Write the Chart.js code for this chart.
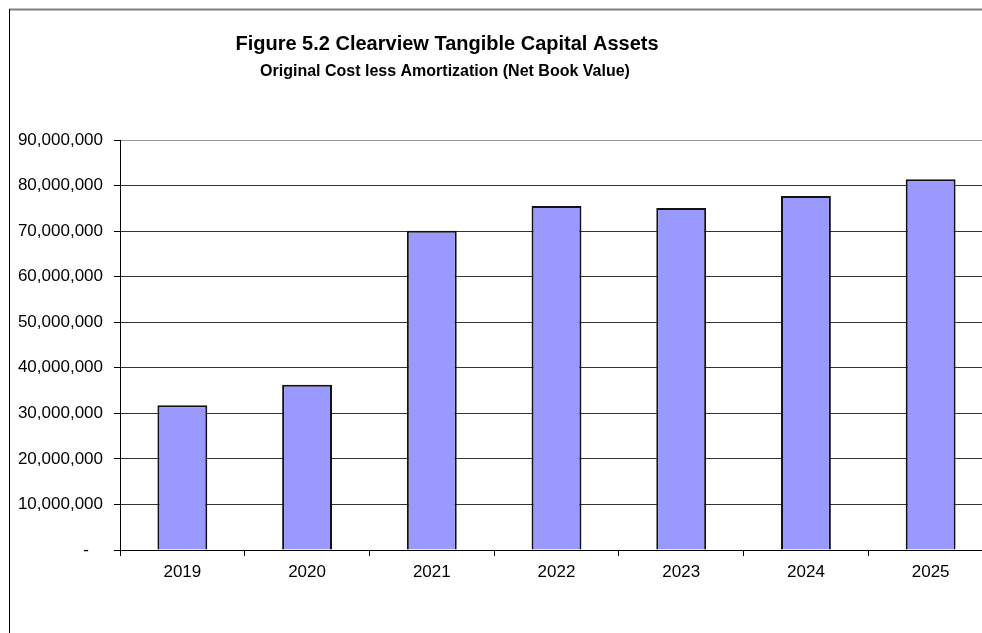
<!DOCTYPE html>
<html>
<head>
<meta charset="utf-8">
<title>Clearview Tangible Capital Assets</title>
<script src="https://cdn.jsdelivr.net/npm/chart.js@4.4.1/dist/chart.umd.min.js"></script>
<style>
    html, body { margin: 0; padding: 0; background: #fff; overflow: hidden; }
    #wrap { width: 1000px; height: 633px; }
</style>
</head>
<body>
<div id="wrap"><canvas id="grafico" width="1000" height="633"></canvas></div>
<script>
// Net book value per year
const anos = ['2019', '2020', '2021', '2022', '2023', '2024', '2025'];
const valorLiquido = [31800000, 36300000, 70100000, 75500000, 75100000, 77700000, 81400000];
const tituloTexto = 'Figure 5.2 Clearview Tangible Capital Assets';
const subtituloTexto = 'Original Cost less Amortization (Net Book Value)';

const fonte = '"Liberation Sans", Arial, sans-serif';

// Frame and the two title lines
const molduraPlugin = {
    id: 'moldura',
    beforeDraw(chart) {
        const ctx = chart.ctx;
        ctx.save();
        ctx.fillStyle = '#fff';
        ctx.fillRect(0, 0, chart.width, chart.height);
        ctx.strokeStyle = '#808080';
        ctx.lineWidth = 2;
        ctx.beginPath();
        ctx.moveTo(9, 9.5);
        ctx.lineTo(chart.width, 9.5);
        ctx.stroke();
        ctx.strokeStyle = '#000';
        ctx.lineWidth = 1;
        ctx.beginPath();
        ctx.moveTo(9.5, 9);
        ctx.lineTo(9.5, chart.height);
        ctx.stroke();
        ctx.restore();
    },
    afterDraw(chart) {
        const ctx = chart.ctx;
        ctx.save();
        ctx.fillStyle = '#000';
        ctx.textAlign = 'center';
        ctx.textBaseline = 'middle';
        ctx.font = 'bold 20px ' + fonte;
        ctx.fillText(tituloTexto, 447, 44);
        ctx.font = 'bold 16px ' + fonte;
        ctx.fillText(subtituloTexto, 445, 72);
        ctx.restore();
    }
};

const ctx = document.getElementById('grafico').getContext('2d');
new Chart(ctx, {
    type: 'bar',
    data: {
        labels: anos,
        datasets: [{
            data: valorLiquido,
            backgroundColor: '#9999FF',
            borderColor: '#111',
            borderWidth: 2,
            barPercentage: 0.4,
            categoryPercentage: 1
        }]
    },
    options: {
        responsive: false,
        animation: false,
        layout: { padding: { top: 140, right: 7, left: 0, bottom: 0 } },
        plugins: {
            legend: { display: false },
            tooltip: { enabled: false }
        },
        scales: {
            x: {
                afterFit(scale) { scale.height = 83; },
                grid: {
                    offset: true,
                    drawOnChartArea: false,
                    drawTicks: true,
                    tickLength: 6,
                    color: '#000'
                },
                border: { color: '#000', width: 1 },
                ticks: {
                    color: '#000',
                    padding: 6,
                    font: { family: fonte, size: 17 }
                }
            },
            y: {
                min: 0,
                max: 90000000,
                afterFit(scale) { scale.width = 120; },
                grid: {
                    drawTicks: true,
                    tickLength: 6,
                    color: (c) => c.tick && c.tick.value === 90000000 ? '#999' : '#333',
                    tickColor: '#000'
                },
                border: { color: '#000', width: 1 },
                ticks: {
                    stepSize: 10000000,
                    color: '#000',
                    padding: 11,
                    font: { family: fonte, size: 17 },
                    callback: (v) => v === 0 ? '-   ' : v.toLocaleString('en-US')
                }
            }
        }
    },
    plugins: [molduraPlugin]
});
</script>
</body>
</html>
